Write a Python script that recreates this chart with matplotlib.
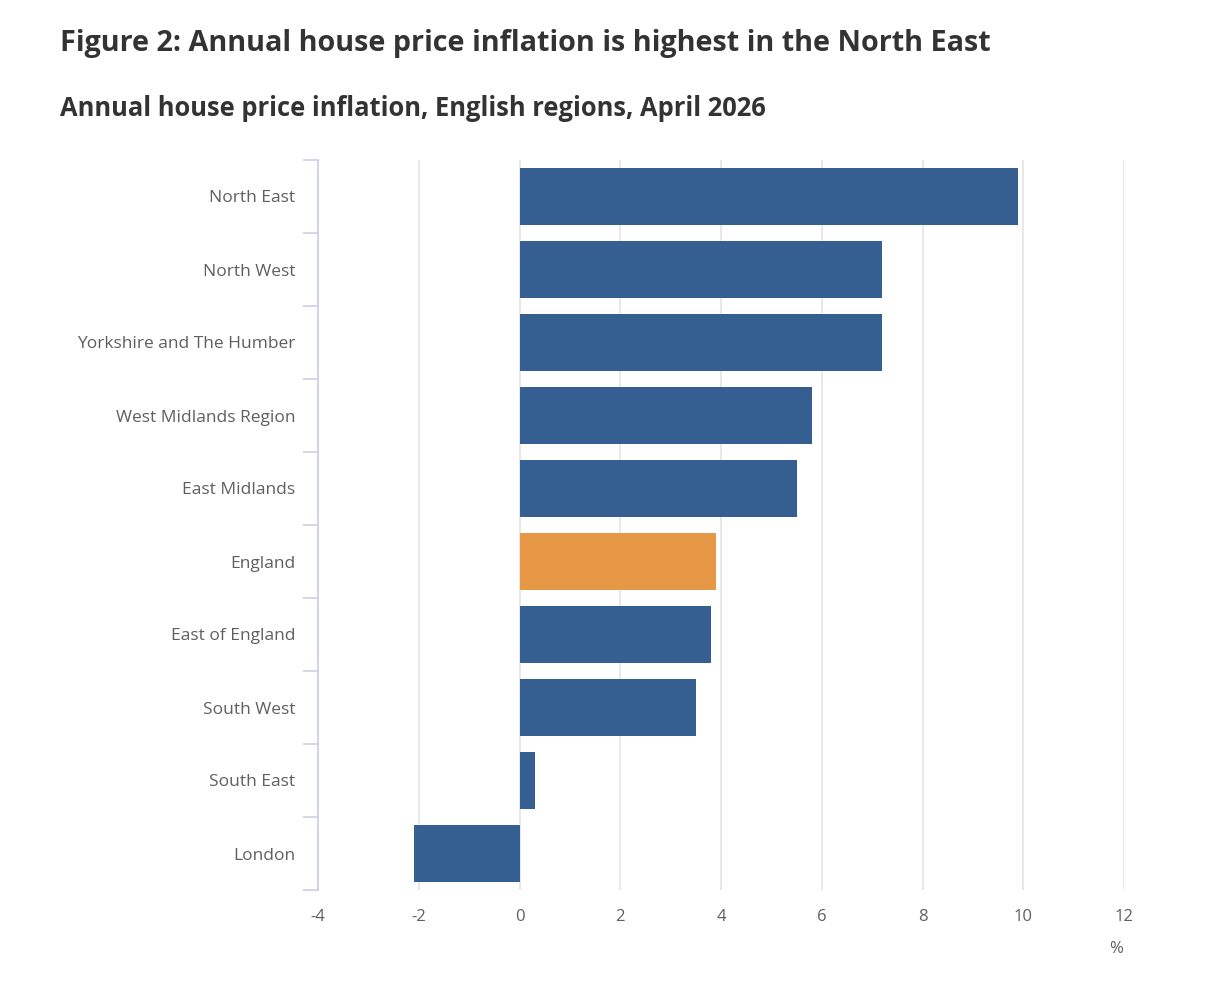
import numpy as np
import matplotlib
matplotlib.use("Agg")
import matplotlib.pyplot as plt

# data
regions = ["North East", "North West", "Yorkshire and The Humber",
           "West Midlands Region", "East Midlands", "England",
           "East of England", "South West", "South East", "London"]
inflation = [9.9, 7.2, 7.2, 5.8, 5.5, 3.9, 3.8, 3.5, 0.3, -2.1]
highlight = "England"

x_ticks = [-4, -2, 0, 2, 4, 6, 8, 10, 12]

BLUE = "#345f90"
ORANGE = "#e69847"
TEXT = "#333333"
AXIS_TEXT = "#5f5f5f"

plt.rcParams["font.family"] = ["Open Sans", "DejaVu Sans"]

fig = plt.figure(figsize=(12.14, 10.08), dpi=100)
ax = fig.add_axes([318 / 1214, 1 - 890 / 1008, (1124 - 318) / 1214, 730 / 1008])

y = np.arange(len(regions))
colors = [ORANGE if r == highlight else BLUE for r in regions]
ax.barh(y, inflation, height=0.79, color=colors, zorder=3)

ax.set_xlim(-4, 12)
ax.set_ylim(len(regions) - 0.5, -0.5)

# x axis: labels only, vertical grid lines
ax.set_xticks(x_ticks)
ax.set_xticklabels([str(t) for t in x_ticks])
ax.tick_params(axis="x", length=0, pad=14, labelsize=12, labelcolor=AXIS_TEXT)
ax.grid(axis="x", color="#e6e6e6", linewidth=1.3, zorder=0)

# y axis: tick marks at category boundaries, labels at centres
ax.set_yticks(np.arange(len(regions) + 1) - 0.5)
ax.set_yticklabels([])
ax.tick_params(axis="y", which="major", length=11, width=1.2, color="#ccd0e6")
ax.set_yticks(y, minor=True)
ax.set_yticklabels(regions, minor=True)
ax.tick_params(axis="y", which="minor", length=0, pad=16.5, labelsize=12.5,
               labelcolor=AXIS_TEXT)

for s in ["top", "right", "bottom"]:
    ax.spines[s].set_visible(False)
ax.spines["left"].set_color("#ccd0e6")
ax.spines["left"].set_linewidth(1.3)

fig.text(1116 / 1214, 1 - 949 / 1008, "%", ha="center", va="center",
         fontsize=12, color=AXIS_TEXT)

fig.text(60 / 1214, 1 - 44 / 1008,
         "Figure 2: Annual house price inflation is highest in the North East",
         ha="left", va="center", fontsize=20.7, fontweight="bold", color=TEXT)
fig.text(60 / 1214, 1 - 108 / 1008,
         "Annual house price inflation, English regions, April 2026",
         ha="left", va="center", fontsize=18.4, fontweight="bold", color=TEXT)

fig.savefig("out.png", dpi=100, facecolor="white")
